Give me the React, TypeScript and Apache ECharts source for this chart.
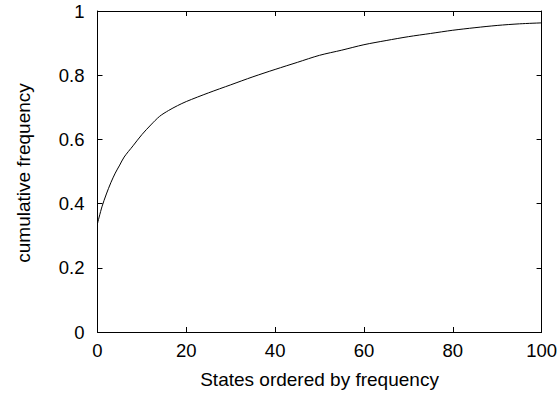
import React, { useEffect, useRef } from "react";
import * as echarts from "echarts";

const xs = [0, 1, 2, 3, 4, 5, 6, 8, 10, 12, 14, 16, 18, 20, 25, 30, 35, 40, 45, 50, 55, 60, 65, 70, 75, 80, 85, 90, 95, 100];
const ys = [0.338, 0.39, 0.43, 0.465, 0.495, 0.52, 0.545, 0.58, 0.615, 0.645, 0.672, 0.69, 0.705, 0.718, 0.745, 0.77, 0.795, 0.818, 0.84, 0.862, 0.878, 0.895, 0.908, 0.92, 0.93, 0.94, 0.948, 0.955, 0.96, 0.963];
const xTicks = [0, 20, 40, 60, 80, 100];
const yTicks = [0, 0.2, 0.4, 0.6, 0.8, 1];
const xTitle = "States ordered by frequency";
const yTitle = "cumulative frequency";

const FONT = "'Liberation Sans', Arial, sans-serif";
const FS = 18.5;
const TFS = 19;

export default function App() {
  const ref = useRef<HTMLDivElement>(null);
  useEffect(() => {
    if (!ref.current) return;
    const chart = echarts.init(ref.current, null, { renderer: "svg" });
    const lineStyle = { color: "#000", width: 1 };
    const common = {
      axisLine: { show: true, onZero: false, lineStyle },
      axisTick: { show: true, inside: true, length: 5, lineStyle },
      splitLine: { show: false },
    };
    chart.setOption({
      animation: false,
      grid: { left: 97.5, right: 18, top: 11, bottom: 61, containLabel: false },
      graphic: [
        {
          type: "text",
          x: 23,
          y: 173,
          rotation: Math.PI / 2,
          style: { text: yTitle, fill: "#000", font: `${TFS}px ${FONT}`, textAlign: "center", textVerticalAlign: "middle" },
        },
      ],
      xAxis: [
        {
          type: "value", min: 0, max: 100, interval: 20, position: "bottom",
          ...common,
          axisLabel: { color: "#000", fontSize: FS, fontFamily: FONT, margin: 9, formatter: (v: number) => (xTicks.includes(v) ? String(v) : "") },
          name: xTitle, nameLocation: "middle", nameGap: 38,
          nameTextStyle: { color: "#000", fontSize: TFS, fontFamily: FONT },
        },
        { type: "value", min: 0, max: 100, interval: 20, position: "top", ...common, axisLabel: { show: false } },
      ],
      yAxis: [
        {
          type: "value", min: 0, max: 1, interval: 0.2, position: "left",
          ...common,
          axisLabel: { color: "#000", fontSize: FS, fontFamily: FONT, margin: 13, formatter: (v: number) => { const t = yTicks.find((k) => Math.abs(k - v) < 1e-9); return t === undefined ? "" : String(t); } },
        },
        { type: "value", min: 0, max: 1, interval: 0.2, position: "right", ...common, axisLabel: { show: false } },
      ],
      series: [
        {
          type: "line",
          data: xs.map((x, i) => [x, ys[i]]),
          showSymbol: false,
          smooth: 0.3,
          lineStyle: { color: "#000", width: 1 },
          xAxisIndex: 0,
          yAxisIndex: 0,
        },
      ],
    });
    return () => chart.dispose();
  }, []);
  return <div ref={ref} style={{ position: "absolute", left: 0, top: 0, width: 560, height: 394 }} />;
}
